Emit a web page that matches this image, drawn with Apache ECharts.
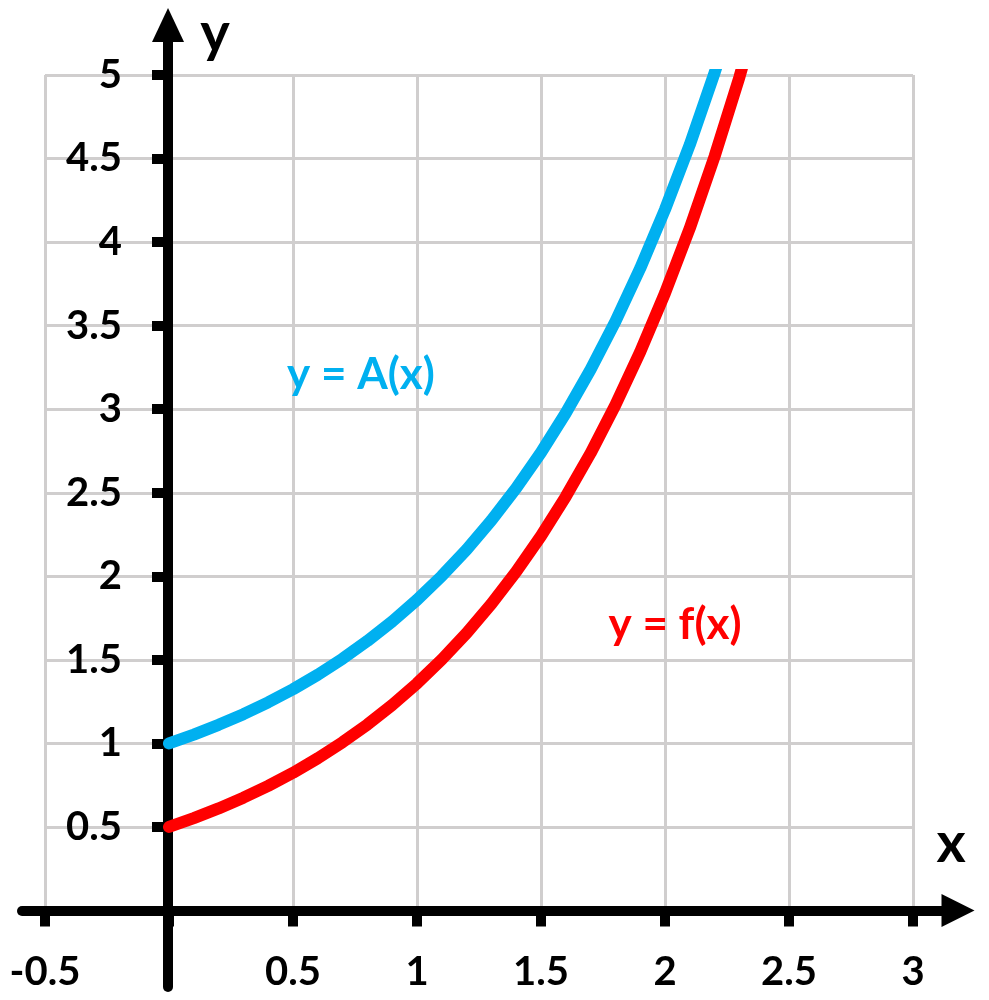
<!DOCTYPE html>
<html>
<head>
<meta charset="utf-8">
<script src="https://cdn.jsdelivr.net/npm/echarts@6/dist/echarts.min.js"></script>
<style>
html,body{margin:0;padding:0;background:#fff;}
#chart{width:989px;height:1000px;}
</style>
</head>
<body>
<div id="chart"></div>
<script>
// x positions sampled along the curves
var xValues = [0, 0.1, 0.2, 0.3, 0.4, 0.5, 0.6, 0.7, 0.8, 0.9, 1.0, 1.1, 1.2, 1.3, 1.4, 1.5, 1.6, 1.7, 1.8, 1.9, 2.0, 2.1, 2.2, 2.3, 2.4];
// y = f(x) (red)
var fValues = [0.500, 0.553, 0.611, 0.675, 0.746, 0.824, 0.911, 1.007, 1.113, 1.230, 1.359, 1.502, 1.660, 1.835, 2.028, 2.241, 2.477, 2.737, 3.025, 3.343, 3.695, 4.083, 4.513, 4.987, 5.512];
// y = A(x) (blue)
var aValues = [1.000, 1.053, 1.111, 1.175, 1.246, 1.324, 1.411, 1.507, 1.613, 1.730, 1.859, 2.002, 2.160, 2.335, 2.528, 2.741, 2.977, 3.237, 3.525, 3.843, 4.195, 4.583, 5.013, 5.487, 6.012];
// tick labels
var xTickLabels = ['-0.5', '', '0.5', '1', '1.5', '2', '2.5', '3'];
var yTickLabels = ['', '0.5', '1', '1.5', '2', '2.5', '3', '3.5', '4', '4.5', '5'];
var seriesNames = ['y = A(x)', 'y = f(x)'];
var axisNames = ['x', 'y'];

function pairs(xs, ys) {
  var out = [];
  for (var i = 0; i < xs.length; i++) out.push([xs[i], ys[i]]);
  return out;
}

var FONT = 'Lato, "Open Sans", "Liberation Sans", sans-serif';
var chart = echarts.init(document.getElementById('chart'), null, {renderer: 'canvas'});

var option = {
  backgroundColor: '#ffffff',
  animation: false,
  grid: [
    {left: 45, top: 75, width: 868, height: 835.5, outerBoundsMode: 'none', containLabel: false},
    {left: 22, top: 25, width: 936, height: 962, outerBoundsMode: 'none', containLabel: false}
  ],
  xAxis: [
    {
      type: 'value', gridIndex: 0, min: -0.5, max: 3, interval: 0.5, position: 'bottom',
      axisLine: {show: true, onZero: false, lineStyle: {color: '#000', width: 10}},
      axisTick: {show: true, length: 16, lineStyle: {color: '#000', width: 10}},
      axisLabel: {
        show: true, margin: 42, showMinLabel: true, showMaxLabel: true, hideOverlap: false,
        color: '#000', fontFamily: FONT, fontWeight: 'bold', fontSize: 40,
        formatter: function (v) { return xTickLabels[Math.round((v + 0.5) / 0.5)] || ''; }
      },
      splitLine: {show: true, lineStyle: {color: '#d0cece', width: 3}}
    },
    {
      type: 'value', gridIndex: 1, min: -0.5885, max: 3.184,
      axisLine: {show: true, onZero: true, symbol: ['none', 'triangle'], symbolSize: [33, 33],
        lineStyle: {color: '#000', width: 10}},
      axisTick: {show: false}, axisLabel: {show: false}, splitLine: {show: false}
    }
  ],
  yAxis: [
    {
      type: 'value', gridIndex: 0, min: 0, max: 5, interval: 0.5, position: 'left', offset: -123,
      axisLine: {show: true, onZero: false, lineStyle: {color: '#000', width: 10}},
      axisTick: {show: true, length: 16, lineStyle: {color: '#000', width: 10}},
      axisLabel: {
        show: true, margin: 46, showMinLabel: true, showMaxLabel: true, hideOverlap: false,
        color: '#000', fontFamily: FONT, fontWeight: 'bold', fontSize: 40,
        formatter: function (v) { return yTickLabels[Math.round(v / 0.5)] || ''; }
      },
      splitLine: {show: true, lineStyle: {color: '#d0cece', width: 3}}
    },
    {
      type: 'value', gridIndex: 1, min: -0.4578, max: 5.299,
      axisLine: {show: true, onZero: true, symbol: ['none', 'triangle'], symbolSize: [32, 34],
        lineStyle: {color: '#000', width: 10}},
      axisTick: {show: false}, axisLabel: {show: false}, splitLine: {show: false}
    }
  ],
  series: [
    {
      name: seriesNames[0], type: 'line', xAxisIndex: 0, yAxisIndex: 0,
      data: pairs(xValues, aValues), smooth: false, showSymbol: false, z: 5,
      lineStyle: {color: '#00b0f0', width: 12, cap: 'round', join: 'round'}
    },
    {
      name: seriesNames[1], type: 'line', xAxisIndex: 0, yAxisIndex: 0,
      data: pairs(xValues, fValues), smooth: false, showSymbol: false, z: 5,
      lineStyle: {color: '#ff0000', width: 12, cap: 'round', join: 'round'}
    }
  ],
  graphic: [
    {type: 'text', x: 361, y: 375, z: 10, style: {text: seriesNames[0], fill: '#00b0f0',
      font: 'bold 44px ' + FONT, align: 'center', verticalAlign: 'middle'}},
    {type: 'text', x: 675, y: 625, z: 10, style: {text: seriesNames[1], fill: '#ff0000',
      font: 'bold 44px ' + FONT, align: 'center', verticalAlign: 'middle'}},
    {type: 'text', x: 951, y: 844, z: 10, style: {text: axisNames[0], fill: '#000',
      font: 'bold 56px ' + FONT, align: 'center', verticalAlign: 'middle'}},
    {type: 'text', x: 215, y: 34, z: 10, style: {text: axisNames[1], fill: '#000',
      font: 'bold 56px ' + FONT, align: 'center', verticalAlign: 'middle'}}
  ]
};
chart.setOption(option);
</script>
</body>
</html>
